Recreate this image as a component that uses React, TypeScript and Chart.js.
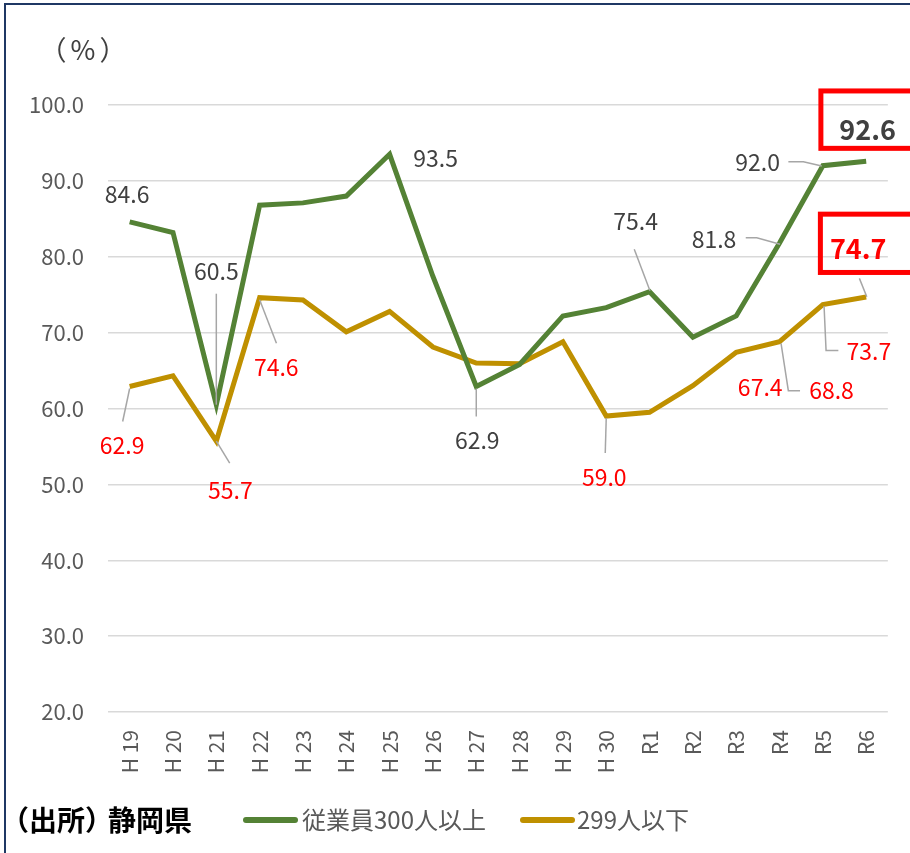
import { useEffect, useRef } from 'react';
import { Chart, registerables } from 'chart.js';

Chart.register(...registerables);

// ---- data ----
const categories = ['H 19', 'H 20', 'H 21', 'H 22', 'H 23', 'H 24', 'H 25', 'H 26', 'H 27', 'H 28', 'H 29', 'H 30', 'R1', 'R2', 'R3', 'R4', 'R5', 'R6'];
const seriesNames = ['従業員300人以上', '299人以下'];
const large300 = [84.6, 83.2, 60.5, 86.8, 87.1, 88.0, 93.5, 77.4, 62.9, 65.8, 72.2, 73.3, 75.4, 69.4, 72.2, 81.8, 92.0, 92.6];
const small299 = [62.9, 64.3, 55.7, 74.6, 74.3, 70.1, 72.8, 68.1, 66.0, 65.9, 68.8, 59.0, 59.5, 63.0, 67.4, 68.8, 73.7, 74.7];
const yMin = 20;
const yMax = 100;
const yStep = 10;
const yTitle = '（%）';
const sourceLabel = '（出所）';
const sourceName = '静岡県';

// ---- styling ----
const FONT = '"Noto Sans CJK JP", "Noto Sans", sans-serif';
const GREEN = '#548235';
const GOLD = '#BF9000';
const LABEL_GRAY = '#404040';
const TICK_GRAY = '#595959';
const RED = '#FF0000';
const LEADER = '#A6A6A6';

type LabelSpec = {
  ds: number;
  i: number;
  dx: number;
  dy: number;
  leader?: [number, number][];
  bold?: boolean;
  box?: { l: number; t: number; r: number; b: number };
};

// Label placement (offsets from the data point, in px)
const labelSpecs: LabelSpec[] = [
  { ds: 0, i: 0, dx: -2.5, dy: -28.5 },
  { ds: 0, i: 2, dx: 0, dy: -134.7, leader: [[0, -111], [0, 0]] },
  { ds: 0, i: 6, dx: 46, dy: 3 },
  { ds: 0, i: 8, dx: 1, dy: 52.5, leader: [[0, 30], [0, 2]] },
  { ds: 0, i: 12, dx: -14, dy: -71.7, leader: [[-15.3, -42.4], [0.4, -1]] },
  { ds: 0, i: 15, dx: -65.5, dy: -5, leader: [[-33.8, -5.4], [-22.8, -5.4], [0.5, 1.2]] },
  { ds: 0, i: 16, dx: -65.3, dy: -4, leader: [[-34.5, -4], [-19.5, -4], [-1.1, 0.3]] },
  { ds: 0, i: 17, dx: 1.4, dy: -32, bold: true, box: { l: -46.7, t: -38.2, r: 80, b: 19.2 } },
  { ds: 1, i: 0, dx: -7.5, dy: 57.5, leader: [[-7, 35], [0, 2]] },
  { ds: 1, i: 2, dx: 14, dy: 48, leader: [[13.4, 22], [0, 0]] },
  { ds: 1, i: 3, dx: 16.6, dy: 69, leader: [[16.8, 45.6], [0, 2]] },
  { ds: 1, i: 11, dx: -2, dy: 60.5, leader: [[-1, 37], [0, 2]] },
  { ds: 1, i: 14, dx: 24, dy: 34 },
  { ds: 1, i: 15, dx: 52, dy: 48, leader: [[20.5, 49], [8.8, 49], [1.5, 1.6]] },
  { ds: 1, i: 16, dx: 46, dy: 45.5, leader: [[15.5, 46], [3.2, 46], [1.2, 1.4]] },
  { ds: 1, i: 17, dx: -8, dy: -49, bold: true, leader: [[-6.8, -18.6], [0.6, -0.2]], box: { l: -37.8, t: -33.8, r: 80, b: 24.5 } },
];

const labelPlugin = {
  id: 'customLabels',
  afterDatasetsDraw(chart: any) {
    const ctx: CanvasRenderingContext2D = chart.ctx;
    ctx.save();
    for (const s of labelSpecs) {
      const pt = chart.getDatasetMeta(s.ds).data[s.i];
      const value = chart.data.datasets[s.ds].data[s.i] as number;
      const px = pt.x;
      const py = pt.y;
      if (s.leader) {
        ctx.beginPath();
        ctx.strokeStyle = LEADER;
        ctx.lineWidth = 1.5;
        s.leader.forEach(([ox, oy], k) => {
          if (k === 0) ctx.moveTo(px + ox, py + oy);
          else ctx.lineTo(px + ox, py + oy);
        });
        ctx.stroke();
      }
      const tx = px + s.dx;
      const ty = py + s.dy;
      const color = s.ds === 0 ? LABEL_GRAY : RED;
      if (s.box) {
        ctx.strokeStyle = RED;
        ctx.lineWidth = 5;
        ctx.strokeRect(tx + s.box.l, ty + s.box.t, s.box.r - s.box.l, s.box.b - s.box.t);
      }
      ctx.fillStyle = color;
      ctx.font = `${s.bold ? 'bold 27px' : '23px'} ${FONT}`;
      ctx.textAlign = 'center';
      ctx.textBaseline = 'middle';
      ctx.fillText(value.toFixed(1), tx, ty + 1);
    }
    ctx.restore();
  },
  afterDraw(chart: any) {
    const ctx: CanvasRenderingContext2D = chart.ctx;
    ctx.save();
    // y-axis unit title
    ctx.fillStyle = LABEL_GRAY;
    ctx.font = `27px ${FONT}`;
    ctx.textAlign = 'center';
    ctx.textBaseline = 'middle';
    (ctx as any).letterSpacing = '4px';
    ctx.fillText(yTitle, 85, 50);
    (ctx as any).letterSpacing = '0px';

    // source
    ctx.fillStyle = '#000000';
    ctx.font = `bold 28px ${FONT}`;
    ctx.fillText(sourceLabel, 57, 820);
    ctx.fillText(sourceName, 150, 820);

    // legend
    const items = [
      { x0: 243, x1: 298, tx: 302 },
      { x0: 520, x1: 575, tx: 577 },
    ];
    items.forEach((it, k) => {
      const ds = chart.data.datasets[k];
      ctx.strokeStyle = ds.borderColor;
      ctx.lineWidth = 6;
      ctx.lineCap = 'round';
      ctx.beginPath();
      ctx.moveTo(it.x0 + 3, 820);
      ctx.lineTo(it.x1 - 3, 820);
      ctx.stroke();
      ctx.fillStyle = TICK_GRAY;
      ctx.font = `24px ${FONT}`;
      ctx.textAlign = 'left';
      ctx.textBaseline = 'middle';
      ctx.fillText(ds.label, it.tx, 820);
    });
    ctx.restore();
  },
};

export default function App() {
  const canvasRef = useRef<HTMLCanvasElement | null>(null);

  useEffect(() => {
    if (!canvasRef.current) return;
    const chart = new Chart(canvasRef.current, {
      type: 'line',
      data: {
        labels: categories,
        datasets: [
          {
            label: seriesNames[0],
            data: large300,
            borderColor: GREEN,
            backgroundColor: GREEN,
            borderWidth: 5,
            pointRadius: 0,
            tension: 0,
          },
          {
            label: seriesNames[1],
            data: small299,
            borderColor: GOLD,
            backgroundColor: GOLD,
            borderWidth: 5,
            pointRadius: 0,
            tension: 0,
          },
        ],
      },
      options: {
        responsive: false,
        animation: false,
        layout: { padding: { top: 105, right: 22, left: 0, bottom: 0 } },
        plugins: {
          legend: { display: false },
          tooltip: { enabled: false },
        },
        scales: {
          x: {
            offset: true,
            grid: { display: false, drawTicks: false },
            border: { display: false },
            ticks: {
              color: TICK_GRAY,
              font: { family: FONT, size: 21 },
              minRotation: 90,
              maxRotation: 90,
              padding: 18,
              autoSkip: false,
            },
            afterFit: (s: any) => {
              s.height = 141;
            },
          },
          y: {
            min: yMin,
            max: yMax,
            grid: { color: '#D9D9D9', lineWidth: 1.5, drawTicks: false },
            border: { display: false },
            ticks: {
              stepSize: yStep,
              color: TICK_GRAY,
              font: { family: FONT, size: 22 },
              padding: 24,
              callback: (v: any) => Number(v).toFixed(1),
            },
            afterFit: (s: any) => {
              s.width = 108;
            },
          },
        },
      },
      plugins: [labelPlugin],
    });
    return () => chart.destroy();
  }, []);

  return (
    <div style={{ position: 'absolute', left: 0, top: 0, width: 910, height: 853, overflow: 'hidden', background: '#fff' }}>
      <canvas ref={canvasRef} width={910} height={853} style={{ position: 'absolute', left: 0, top: 0 }} />
      <div
        style={{
          position: 'absolute',
          left: 4,
          top: 3,
          width: 1200,
          height: 1200,
          border: '2.5px solid #1F3864',
          boxSizing: 'border-box',
          pointerEvents: 'none',
        }}
      />
    </div>
  );
}
